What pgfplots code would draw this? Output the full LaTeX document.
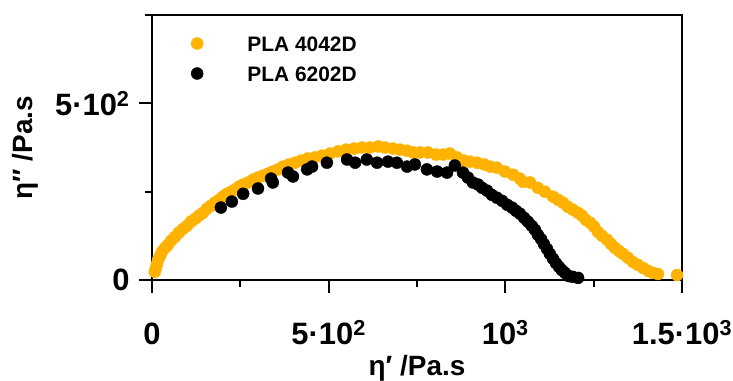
\documentclass[border=0pt]{standalone}
\usepackage{pgfplots}
\pgfplotsset{compat=1.18}
\usepackage{fontspec}
\setmainfont{Liberation Sans}
\definecolor{plaorange}{RGB}{255,178,0}
\pgfplotsset{mylegend/.style={legend image code/.code={\draw[mark repeat=2,mark phase=2,##1] plot coordinates {(0bp,0bp) (10bp,0bp) (20bp,0bp)}; \path (0bp,0bp) (60bp,0bp);}}}
\begin{document}
\begin{tikzpicture}
\useasboundingbox (-152bp,-101bp) rectangle (581bp,280bp);
\begin{axis}[
  at={(0,0)}, anchor=south west,
  scale only axis, width=530bp, height=265bp,
  xmin=0, xmax=1500, ymin=0, ymax=750,
  clip=false,
  axis line style={line width=2.4bp},
  tick align=outside, tick pos=left,
  xtick={0,500,1000,1500},
  xticklabels={0,5·10\textsuperscript{2},10\textsuperscript{3},1.5·10\textsuperscript{3}},
  minor xtick={250,750,1250},
  ytick={0,500},
  yticklabels={0,5·10\textsuperscript{2}},
  minor ytick={250,750},
  major tick length=13bp, minor tick length=7bp,
  every tick/.style={black, line width=2bp},
  tick label style={font=\fontsize{31}{36}\selectfont\bfseries},
  xticklabel style={anchor=base, text height=24bp, text depth=0bp, yshift=-51bp},
  yticklabel style={xshift=-6bp},
  xlabel={η′ /Pa.s}, ylabel={η″ /Pa.s},
  label style={font=\fontsize{28}{32}\selectfont\bfseries},
  xlabel style={at={(axis description cs:0.5,0)}, anchor=base, yshift=-95bp},
  ylabel style={at={(axis description cs:0,0.5)}, anchor=base, xshift=0bp, yshift=119bp},
  legend style={draw=none, fill=none, inner sep=0pt, outer sep=0pt,
    at={(0,1)}, anchor=north west, xshift=35bp, yshift=-21bp,
    nodes={inner sep=0pt, text height=15bp, text depth=0bp},
    row sep=15bp, font=\fontsize{21}{25}\selectfont\bfseries},
]
\addplot[only marks, mark=*, mark size=6bp, draw=plaorange, fill=plaorange, mylegend]
coordinates {
(8,23) (11,34) (14,45) (17,57) (23,68) (28,80) (37,91) (45,99) (54,111) (65,122)
(76,134) (88,145) (99,153) (110,165) (122,173) (133,182) (144,190) (156,202) (167,210) (178,219)
(190,227) (201,236) (212,244) (224,250) (235,256) (246,264) (258,270) (272,276) (286,284) (300,290)
(314,295) (328,301) (342,307) (357,313) (371,321) (388,327) (405,332) (422,338) (441,344) (461,347)
(481,352) (504,358) (526,364) (549,369) (572,372) (594,375) (617,375) (640,378) (659,375) (682,372)
(702,369) (722,366) (739,361) (758,361) (781,361) (804,355) (824,355) (843,358) (863,347) (883,338)
(900,335) (920,332) (940,327) (957,321) (976,318) (999,307) (1022,298) (1041,287) (1050,278) (1070,276)
(1092,261) (1112,250) (1135,236) (1149,227) (1163,219) (1177,207) (1191,199) (1206,190) (1217,182) (1228,170)
(1240,162) (1251,151) (1262,136) (1274,125) (1288,114) (1299,102) (1310,91) (1322,82) (1333,74) (1347,63)
(1361,51) (1375,43) (1390,34) (1404,26) (1418,20) (1432,17) (1486,14)
};
\addlegendentry{PLA 4042D}
\addplot[only marks, mark=*, mark size=6bp, draw=black, fill=black, mylegend]
coordinates {
(195,205) (226,222) (258,244) (300,259) (337,287) (342,276) (385,304) (399,293) (439,313) (453,321)
(495,332) (552,341) (575,332) (608,341) (637,332) (668,335) (693,332) (722,321) (744,327) (778,313)
(807,307) (835,304) (857,324) (880,304) (894,290) (908,276) (923,270) (934,261) (948,253) (962,241)
(976,233) (991,224) (1005,213) (1019,205) (1030,196) (1041,188) (1053,176) (1064,165) (1075,153) (1084,142)
(1092,128) (1101,116) (1109,102) (1118,88) (1126,74) (1135,60) (1143,48) (1152,37) (1160,28) (1169,20)
(1180,11) (1191,9) (1206,6)
};
\addlegendentry{PLA 6202D}
\end{axis}
\end{tikzpicture}
\end{document}
